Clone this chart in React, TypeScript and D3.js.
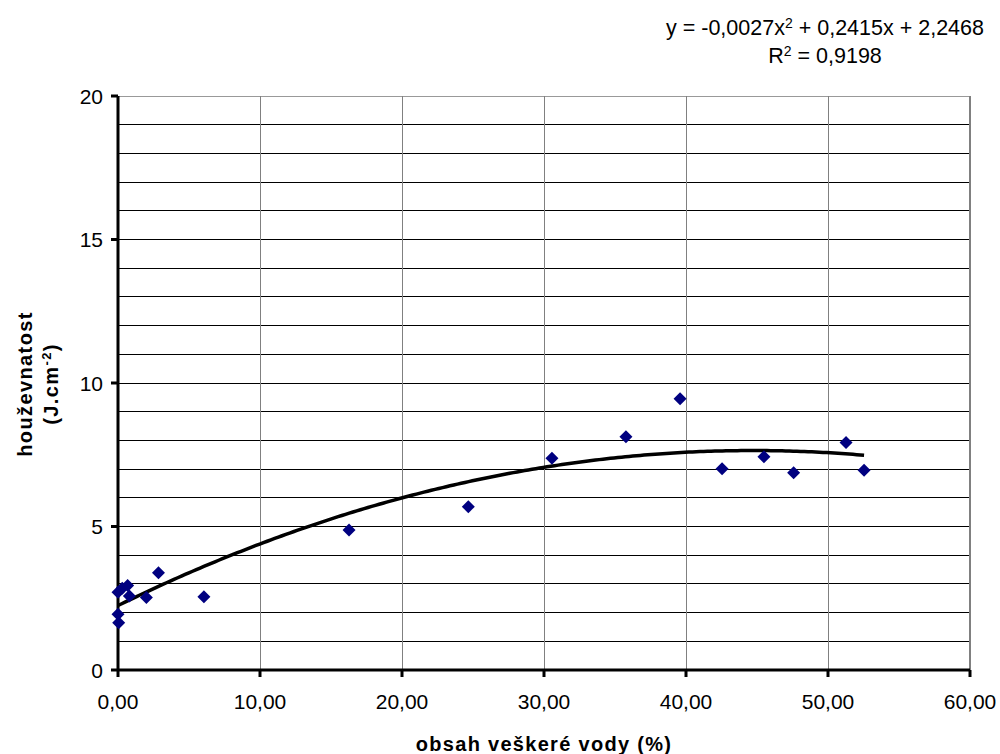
import * as d3 from "d3";

// measured points: obsah veškeré vody (%) vs. houževnatost (J.cm-2)
const waterContent = [0, 0, 0.05, 0.3, 0.68, 0.8, 2.0, 2.85, 6.05, 16.27, 24.67, 30.56, 35.77, 39.58, 42.54, 45.49, 47.58, 51.27, 52.54];
const toughness = [2.71, 1.94, 1.65, 2.85, 2.94, 2.58, 2.53, 3.39, 2.55, 4.88, 5.69, 7.38, 8.13, 9.45, 7.01, 7.43, 6.87, 7.93, 6.96];

// polynomial trendline coefficients (c0 + c1*x + c2*x^2)
const trendCoef = [2.2468, 0.2415, -0.0027];
const rSquared = "0,9198";

const xTicks = [0, 10, 20, 30, 40, 50, 60];
const yTicks = [0, 5, 10, 15, 20];

const W = 1000;
const H = 754;
const margin = { top: 96, right: 30, bottom: 84, left: 118 };
const FONT = "'Liberation Sans', Arial, sans-serif";

export default function App() {
  const innerW = W - margin.left - margin.right;
  const innerH = H - margin.top - margin.bottom;

  const x = d3.scaleLinear().domain([0, 60]).range([0, innerW]);
  const y = d3.scaleLinear().domain([0, 20]).range([innerH, 0]);

  const minX = d3.min(waterContent) ?? 0;
  const maxX = d3.max(waterContent) ?? 60;
  const trendX = d3.range(0, 201).map((i) => minX + ((maxX - minX) * i) / 200);
  const trendLine = d3
    .line<number>()
    .x((v) => x(v))
    .y((v) => y(trendCoef[0] + trendCoef[1] * v + trendCoef[2] * v * v));

  const pts = waterContent.map((v, i) => ({ wx: v, ty: toughness[i] }));
  const r = 6.5;
  const fmtX = (d: number) => d.toFixed(2).replace(".", ",");

  return (
    <svg
      width={W}
      height={H}
      style={{ position: "absolute", left: 0, top: 0, background: "#fff" }}
      fontFamily={FONT}
    >
      {/* trendline label */}
      <text x={825} y={35} textAnchor="middle" fontSize={21.5} fill="#000">
        y = -0,0027x<tspan dy={-7} fontSize={14}>2</tspan>
        <tspan dy={7}> + 0,2415x + 2,2468</tspan>
      </text>
      <text x={825} y={63} textAnchor="middle" fontSize={21.5} fill="#000">
        R<tspan dy={-7} fontSize={14}>2</tspan>
        <tspan dy={7}> = {rSquared}</tspan>
      </text>

      <g transform={`translate(${margin.left},${margin.top})`}>
        {/* horizontal grid, one per unit */}
        {d3.range(1, 21).map((v) => (
          <line
            key={`h${v}`}
            x1={0}
            x2={innerW}
            y1={y(v)}
            y2={y(v)}
            stroke={v === 20 ? "#999" : "#000"}
            strokeWidth={1}
            shapeRendering="crispEdges"
          />
        ))}
        {/* vertical grid */}
        {xTicks.slice(1).map((v) => (
          <line
            key={`v${v}`}
            x1={x(v)}
            x2={x(v)}
            y1={0}
            y2={innerH}
            stroke="#808080"
            strokeWidth={v === 60 ? 2 : 1}
            shapeRendering="crispEdges"
          />
        ))}

        {/* axes */}
        <line x1={0} x2={0} y1={0} y2={innerH} stroke="#000" strokeWidth={3} />
        <line x1={0} x2={innerW} y1={innerH} y2={innerH} stroke="#000" strokeWidth={3} />
        {yTicks.map((v) => (
          <g key={`yt${v}`}>
            <line x1={-7} x2={0} y1={y(v)} y2={y(v)} stroke="#000" strokeWidth={3} />
            <text x={-15} y={y(v)} dy="0.36em" textAnchor="end" fontSize={21} fill="#000">
              {v}
            </text>
          </g>
        ))}
        {xTicks.map((v) => (
          <g key={`xt${v}`}>
            <line x1={x(v)} x2={x(v)} y1={innerH} y2={innerH + 7} stroke="#000" strokeWidth={3} />
            <text x={x(v)} y={innerH + 39} textAnchor="middle" fontSize={21} fill="#000">
              {fmtX(v)}
            </text>
          </g>
        ))}

        {/* trendline */}
        <path d={trendLine(trendX) ?? ""} fill="none" stroke="#000" strokeWidth={3.5} />

        {/* points */}
        {pts.map((p, i) => (
          <path
            key={i}
            transform={`translate(${x(p.wx)},${y(p.ty)})`}
            d={`M0,${-r}L${r},0L0,${r}L${-r},0Z`}
            fill="#000080"
          />
        ))}
      </g>

      {/* axis titles */}
      <text x={544} y={751} textAnchor="middle" fontSize={20} fontWeight="bold" letterSpacing={1.3} fill="#000">
        obsah veškeré vody (%)
      </text>
      <g transform="translate(32,384) rotate(-90)">
        <text textAnchor="middle" fontSize={20} fontWeight="bold" letterSpacing={1.4} fill="#000">
          houževnatost
        </text>
      </g>
      <g transform="translate(58,384) rotate(-90)">
        <text textAnchor="middle" fontSize={20} fontWeight="bold" letterSpacing={1.4} fill="#000">
          (J.cm<tspan dy={-7} fontSize={13}>-2</tspan>
          <tspan dy={7}>)</tspan>
        </text>
      </g>
    </svg>
  );
}
